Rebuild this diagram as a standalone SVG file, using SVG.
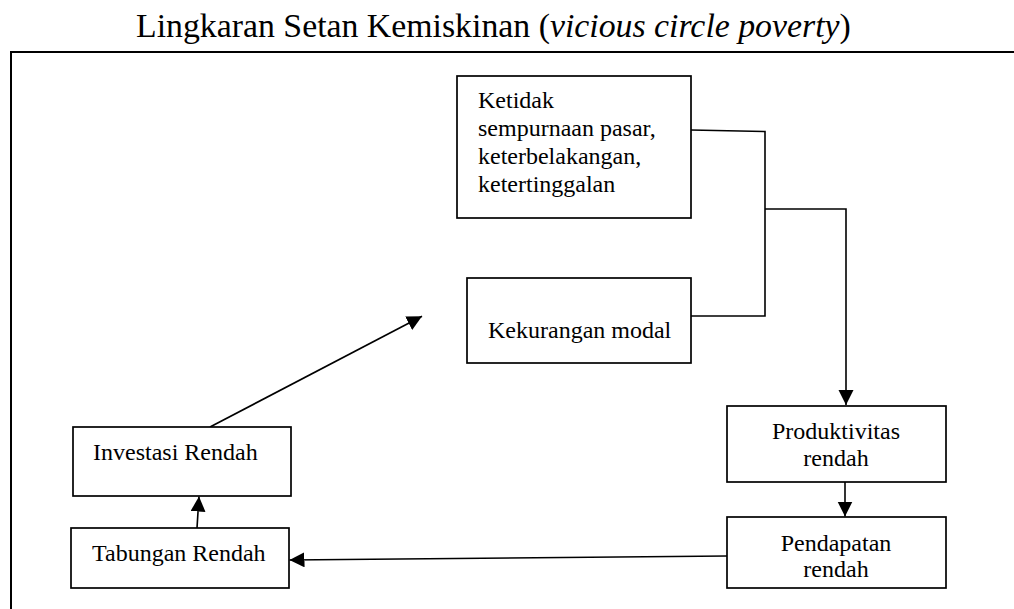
<svg xmlns="http://www.w3.org/2000/svg" width="1014" height="609" viewBox="0 0 1014 609">
<defs>
<style>
.box{fill:#fff;stroke:#000;stroke-width:1.7}
.t{font-family:"Liberation Serif","Times New Roman",serif;font-size:24px;fill:#000}
.c{fill:none;stroke:#000;stroke-width:1.6}
.m{text-anchor:middle}
</style>
<marker id="ah" markerUnits="userSpaceOnUse" markerWidth="16" markerHeight="16" refX="15" refY="7.5" orient="auto" viewBox="0 0 16 16">
<path d="M0,0 L15,7.5 L0,15 z" fill="#000"/>
</marker>
</defs>
<rect width="1014" height="609" fill="#fff"/>
<text x="136" y="37" font-family="Liberation Serif, Times New Roman, serif" font-size="33.8" fill="#000">Lingkaran Setan Kemiskinan (<tspan font-style="italic">vicious circle poverty</tspan>)</text>
<g id="frame">
<line x1="10" y1="52" x2="1014" y2="52" stroke="#000" stroke-width="2.2"/>
<line x1="11" y1="51" x2="11" y2="609" stroke="#000" stroke-width="2"/>
</g>
<g id="connectors">
<path class="c" d="M691,130 L765,131.5 L765,316 L691,316"/>
<path class="c" d="M765,209 L846,209 L846,405" marker-end="url(#ah)"/>
<path class="c" d="M845,482 L845,516.5" marker-end="url(#ah)"/>
<path class="c" d="M727,556 L289.5,560" marker-end="url(#ah)"/>
<path class="c" d="M197,528 L199,496.5" marker-end="url(#ah)"/>
<path class="c" d="M210,427 L422,316.3" marker-end="url(#ah)"/>
</g>
<g id="node-ketidak">
<rect class="box" x="457" y="76" width="234" height="142"/>
<text class="t" x="478" y="108">Ketidak</text>
<text class="t" x="478" y="136">sempurnaan pasar,</text>
<text class="t" x="478" y="164">keterbelakangan,</text>
<text class="t" x="478" y="191.5">ketertinggalan</text>
</g>
<g id="node-kekurangan">
<rect class="box" x="467" y="278" width="224" height="85"/>
<text class="t" x="488" y="338">Kekurangan modal</text>
</g>
<g id="node-produktivitas">
<rect class="box" x="727" y="406" width="219" height="76"/>
<text class="t m" x="836" y="439">Produktivitas</text>
<text class="t m" x="836" y="466">rendah</text>
</g>
<g id="node-pendapatan">
<rect class="box" x="727" y="517" width="219" height="71"/>
<text class="t m" x="836" y="550.5">Pendapatan</text>
<text class="t m" x="836" y="577">rendah</text>
</g>
<g id="node-tabungan">
<rect class="box" x="71" y="528" width="218" height="60"/>
<text class="t" x="92" y="560.5">Tabungan Rendah</text>
</g>
<g id="node-investasi">
<rect class="box" x="73" y="427" width="218" height="69"/>
<text class="t" x="93" y="460">Investasi Rendah</text>
</g>
</svg>
